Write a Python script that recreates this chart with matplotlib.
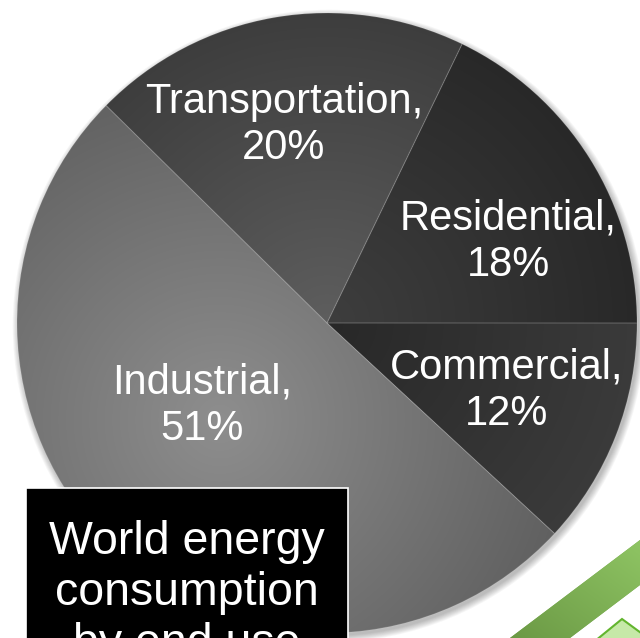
import numpy as np
import matplotlib
matplotlib.use("Agg")
import matplotlib.pyplot as plt
from matplotlib.patches import Rectangle, Polygon, Circle

# World energy consumption by end use (percent)
sectors = ["Commercial", "Industrial", "Transportation", "Residential"]
shares = [12, 51, 20, 18]

# label anchor points in canvas pixels (x right, y up)
label_pos = [(507, 247), (202, 232), (284, 513), (508, 396)]

W, H = 640, 638
CX, CY, R = 327, 315, 310

fig = plt.figure(figsize=(6.4, 6.38), dpi=100, facecolor="white")
ax = fig.add_axes([0, 0, 1, 1])

# soft drop shadow under the pie
for i in range(8):
    ax.add_patch(Circle((CX + 2, CY - 3), R + i * 0.9, color="black",
                        alpha=0.035, lw=0, zorder=0))

wedges, _ = ax.pie(shares, startangle=0, counterclock=False, radius=R,
                   center=(CX, CY),
                   wedgeprops=dict(facecolor="none", edgecolor=(1, 1, 1, 0.12),
                                   linewidth=0.8, zorder=3))

# shading for each slice
xx, yy = np.meshgrid(np.arange(W) + 0.5, np.arange(H) + 0.5)
d_c = np.hypot(xx - CX, yy - CY)
shade = {
    "Commercial": np.clip(40 + 0.06 * d_c, 40, 60),
    "Industrial": np.clip(142 - 0.13 * np.hypot(xx - 220, yy - 218), 92, 142),
    "Transportation": np.clip(94 - 0.105 * d_c, 60, 94),
    "Residential": np.clip(62 - 0.07 * d_c, 40, 62),
}
for name, w in zip(sectors, wedges):
    g = shade[name] / 255.0
    rgb = np.dstack([g, g, g])
    im = ax.imshow(rgb, extent=(0, W, 0, H), origin="lower", zorder=2,
                   interpolation="bilinear")
    im.set_clip_path(w)

for name, val, (x, y) in zip(sectors, shares, label_pos):
    ax.text(x, y, f"{name},\n{val}%", ha="center", va="center",
            multialignment="center", color="white", fontsize=30,
            family="Liberation Sans", zorder=5)

# title box
ax.add_patch(Rectangle((26, -20), 322, 170, facecolor="black",
                       edgecolor="white", lw=1.2, zorder=6))
ax.text(187, 118, "World energy\nconsumption\nby end use", ha="center",
        va="top", multialignment="center", color="white", fontsize=33.5,
        family="Liberation Sans", zorder=7)

# green corner decoration
band = Polygon([(640, 98), (510, 0), (570, 0), (640, 53)], closed=True,
               facecolor="#7cad57", edgecolor="none", zorder=1)
ax.add_patch(band)
gx = np.clip((xx - 510) / 130 + yy / 98, 0, 2) / 2
band_rgb = np.dstack([0.42 + 0.14 * gx, 0.60 + 0.17 * gx, 0.27 + 0.12 * gx])
bim = ax.imshow(band_rgb, extent=(0, W, 0, H), origin="lower", zorder=1)
bim.set_clip_path(band)
ax.add_patch(Polygon([(595, -3), (622, 19), (652, -3)], closed=True,
                     facecolor="#c6e9a8", edgecolor="#62b52e", lw=1.5,
                     zorder=1))

ax.set_xlim(0, W)
ax.set_ylim(0, H)
ax.set_aspect("auto")
ax.axis("off")

fig.savefig("out.png", dpi=100, facecolor="white")
